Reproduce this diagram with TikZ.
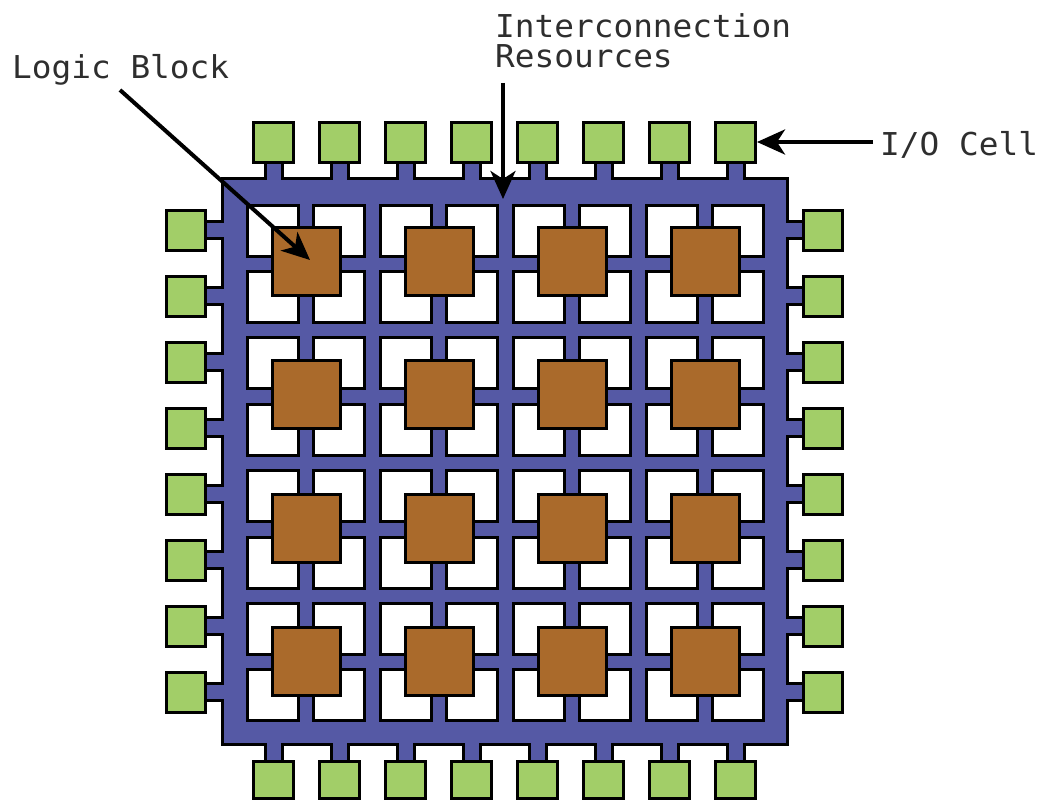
\documentclass[tikz,border=0pt]{standalone}
\usepackage{fontspec}
\usetikzlibrary{arrows.meta}
\newfontfamily\lblfont[FakeStretch=1.04]{DejaVu Sans Mono}
\definecolor{fabric}{HTML}{5559A5}
\definecolor{iogreen}{HTML}{A2CE68}
\definecolor{logicbrown}{HTML}{AA6A2B}
\definecolor{txtgray}{HTML}{2E2E2E}
\tikzset{
  outl/.style={draw=black,line width=6pt},
  fab/.style={fill=fabric},
  hole/.style={fill=white,draw=black,line width=3pt},
  lblock/.style={fill=logicbrown,draw=black,line width=3pt},
  iocell/.style={fill=iogreen,draw=black,line width=3pt},
  lbl/.style={inner sep=0pt,anchor=base west,text=txtgray,font=\lblfont\fontsize{31.5}{31.5}\selectfont},
  pointer/.style={line width=4pt,-{Stealth[length=28pt,width=25pt,inset=8pt]}}
}
\begin{document}
\begin{tikzpicture}[x=1pt,y=-1pt]
\useasboundingbox (0,0) rectangle (1047,800);
% outline pass: fabric square and stubs
\draw[outl] (224,180) rectangle (786,743);
\foreach \k in {0,...,7}{
  \draw[outl] ({273.5+66*\k-7},150) rectangle ({273.5+66*\k+7},192);
  \draw[outl] ({273.5+66*\k-7},735) rectangle ({273.5+66*\k+7},775);
  \draw[outl] (190,{230+66*\k-7}) rectangle (236,{230+66*\k+7});
  \draw[outl] (772,{230+66*\k-7}) rectangle (815,{230+66*\k+7});
}
% fill pass
\fill[fab] (224,180) rectangle (786,743);
\foreach \k in {0,...,7}{
  \fill[fab] ({273.5+66*\k-7},150) rectangle ({273.5+66*\k+7},192);
  \fill[fab] ({273.5+66*\k-7},735) rectangle ({273.5+66*\k+7},775);
  \fill[fab] (190,{230+66*\k-7}) rectangle (236,{230+66*\k+7});
  \fill[fab] (772,{230+66*\k-7}) rectangle (815,{230+66*\k+7});
}
% holes
\foreach \i in {0,...,7}{
  \foreach \j in {0,...,7}{
    \draw[hole] ({247+66.5*\i},{205+66.4*\j}) rectangle +(51,51);
  }
}
% logic blocks
\foreach \i in {0,...,3}{
  \foreach \j in {0,...,3}{
    \draw[lblock] ({306+133.3*\i-34},{261+133.5*\j-34}) rectangle +(68,68);
  }
}
% I/O cells
\foreach \k in {0,...,7}{
  \draw[iocell] ({273.5+66*\k-20},122) rectangle +(40,40);
  \draw[iocell] ({273.5+66*\k-20},761) rectangle +(40,37);
  \draw[iocell] (166,{230+66*\k-20}) rectangle +(39,40);
  \draw[iocell] (803,{230+66*\k-20}) rectangle +(39,40);
}
% labels
\node[lbl] (lbtext) at (12,78) {Logic Block};
\node[lbl] (ictext) at (495,38) {Interconnection};
\node[lbl] (ictext2) at (495,68) {Resources};
\node[lbl] (iotext) at (880,155) {I/O Cell};
% pointer ends
\coordinate (lbstart) at (120,90);
\coordinate (lbtip) at (310,260);
\coordinate (icstart) at (503,83);
\coordinate (ictip) at (503,199);
\coordinate (iostart) at (873,142);
\coordinate (iotip) at (757,142);
\draw[pointer] (lbstart) -- (lbtip);
\draw[pointer] (icstart) -- (ictip);
\draw[pointer] (iostart) -- (iotip);
\end{tikzpicture}
\end{document}
